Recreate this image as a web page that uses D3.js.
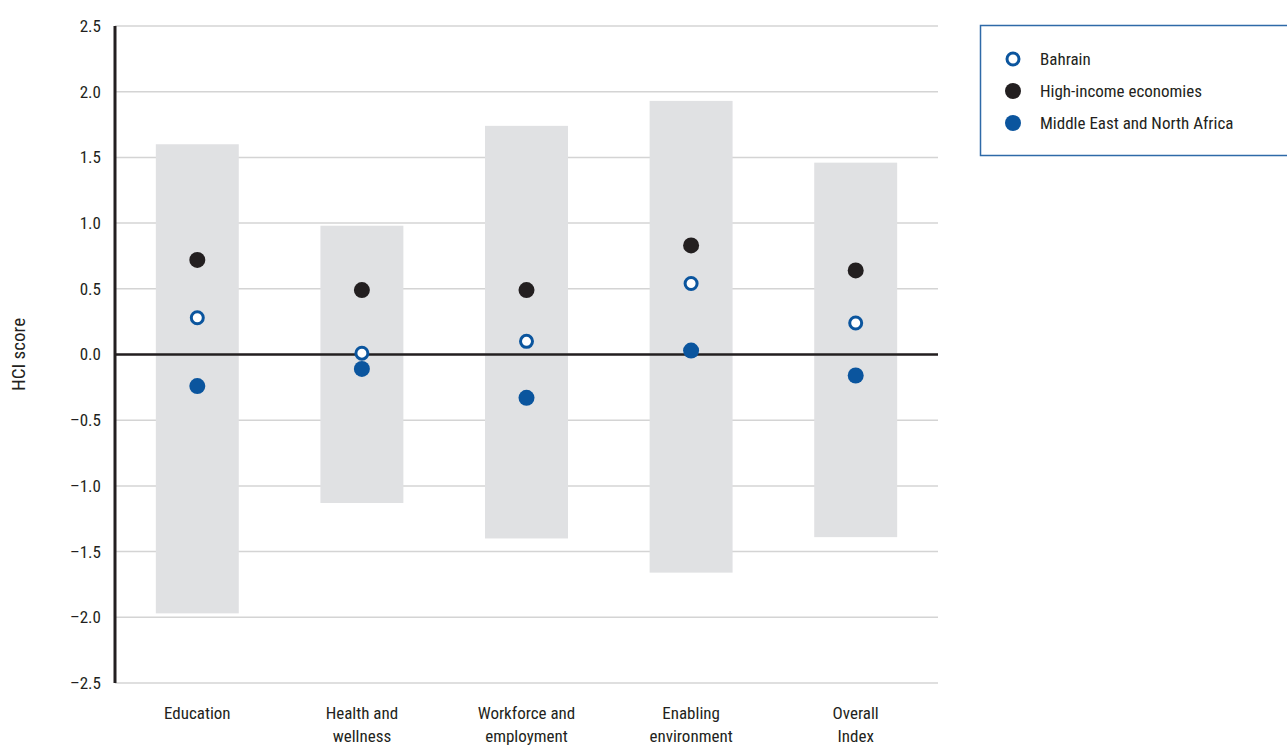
<!DOCTYPE html>
<html>
<head>
<meta charset="utf-8">
<script src="https://cdn.jsdelivr.net/npm/d3@7"></script>
<style>
  html, body { margin: 0; padding: 0; background: #fff; }
  svg { display: block; }
  text { font-family: "Liberation Sans Narrow", "Roboto Condensed", "Roboto", "Liberation Sans", sans-serif; fill: #231f20; }
</style>
</head>
<body>
<svg id="chart" width="1287" height="745"></svg>
<script>
const categories = [["Education"], ["Health and", "wellness"], ["Workforce and", "employment"], ["Enabling", "environment"], ["Overall", "Index"]];
const rangeMin = [-1.97, -1.13, -1.40, -1.66, -1.39];
const rangeMax = [1.60, 0.98, 1.74, 1.93, 1.46];
const bahrain = [0.28, 0.01, 0.10, 0.54, 0.24];
const highIncome = [0.72, 0.49, 0.49, 0.83, 0.64];
const mena = [-0.24, -0.11, -0.33, 0.03, -0.16];
const yTicks = [2.5, 2.0, 1.5, 1.0, 0.5, 0.0, -0.5, -1.0, -1.5, -2.0, -2.5];
const seriesNames = ["Bahrain", "High-income economies", "Middle East and North Africa"];

const blue = "#0b559e", dark = "#231f20", grey = "#e0e1e3", gridC = "#d4d4d4";
const svg = d3.select("#chart");
const pLeft = 115, pRight = 938, pTop = 26, pBottom = 683;

const x = d3.scaleBand().domain(d3.range(categories.length)).range([pLeft, pRight]).paddingInner(0.496).paddingOuter(0.248);
const y = d3.scaleLinear().domain([-2.5, 2.5]).range([pBottom, pTop]);

// gridlines
svg.append("g").selectAll("line").data(yTicks).join("line")
  .attr("x1", pLeft).attr("x2", pRight)
  .attr("y1", d => y(d)).attr("y2", d => y(d))
  .attr("stroke", gridC).attr("stroke-width", 1.5);

// range bars
svg.append("g").selectAll("rect").data(categories).join("rect")
  .attr("x", (d, i) => x(i)).attr("width", x.bandwidth())
  .attr("y", (d, i) => y(rangeMax[i]))
  .attr("height", (d, i) => y(rangeMin[i]) - y(rangeMax[i]))
  .attr("fill", grey);

// zero line
svg.append("line").attr("x1", pLeft).attr("x2", pRight).attr("y1", y(0)).attr("y2", y(0))
  .attr("stroke", dark).attr("stroke-width", 2.5);

// y axis
const yAxis = d3.axisLeft(y).tickValues(yTicks).tickSize(0).tickPadding(14)
  .tickFormat(d => d < 0 ? "\u2013" + d3.format(".1f")(-d) : d3.format(".1f")(d));
const ga = svg.append("g").attr("transform", `translate(${pLeft},0)`).call(yAxis);
ga.attr("font-family", null).attr("font-size", null);
ga.select(".domain").remove();
ga.selectAll("text").attr("font-size", 17).attr("fill", "#333");
svg.append("line").attr("x1", pLeft).attr("x2", pLeft).attr("y1", pTop).attr("y2", pBottom)
  .attr("stroke", dark).attr("stroke-width", 3);

// y label
svg.append("text").attr("transform", `translate(25,${y(0)}) rotate(-90)`)
  .attr("text-anchor", "middle").attr("font-size", 19).text("HCI score");

// x labels
const xl = svg.append("g").selectAll("text").data(categories).join("text")
  .attr("x", (d, i) => x(i) + x.bandwidth() / 2).attr("y", 719)
  .attr("text-anchor", "middle").attr("font-size", 17).attr("fill", "#333");
xl.selectAll("tspan").data(d => d).join("tspan")
  .attr("x", function () { return d3.select(this.parentNode).attr("x"); })
  .attr("dy", (d, j) => j === 0 ? 0 : 23).text(d => d);

const cx = i => x(i) + x.bandwidth() / 2;
// points
svg.append("g").selectAll("circle").data(highIncome).join("circle")
  .attr("cx", (d, i) => cx(i)).attr("cy", d => y(d)).attr("r", 8).attr("fill", dark);
svg.append("g").selectAll("circle").data(mena).join("circle")
  .attr("cx", (d, i) => cx(i)).attr("cy", d => y(d)).attr("r", 8).attr("fill", blue);
svg.append("g").selectAll("circle").data(bahrain).join("circle")
  .attr("cx", (d, i) => cx(i)).attr("cy", d => y(d)).attr("r", 6).attr("fill", "#fff")
  .attr("stroke", blue).attr("stroke-width", 3);

// legend
const lg = svg.append("g");
lg.append("rect").attr("x", 980.5).attr("y", 25.5).attr("width", 320).attr("height", 130)
  .attr("fill", "#fff").attr("stroke", "#2e6aa8").attr("stroke-width", 1.5);
const items = lg.selectAll("g").data(seriesNames).join("g")
  .attr("transform", (d, i) => `translate(1013,${59 + i * 32})`);
items.append("circle").attr("r", (d, i) => i === 0 ? 6 : 8)
  .attr("fill", (d, i) => i === 0 ? "#fff" : (i === 1 ? dark : blue))
  .attr("stroke", (d, i) => i === 0 ? blue : "none").attr("stroke-width", 3);
items.append("text").attr("x", 27).attr("y", 6).attr("font-size", 17).attr("fill", "#333").text(d => d);
</script>
</body>
</html>
